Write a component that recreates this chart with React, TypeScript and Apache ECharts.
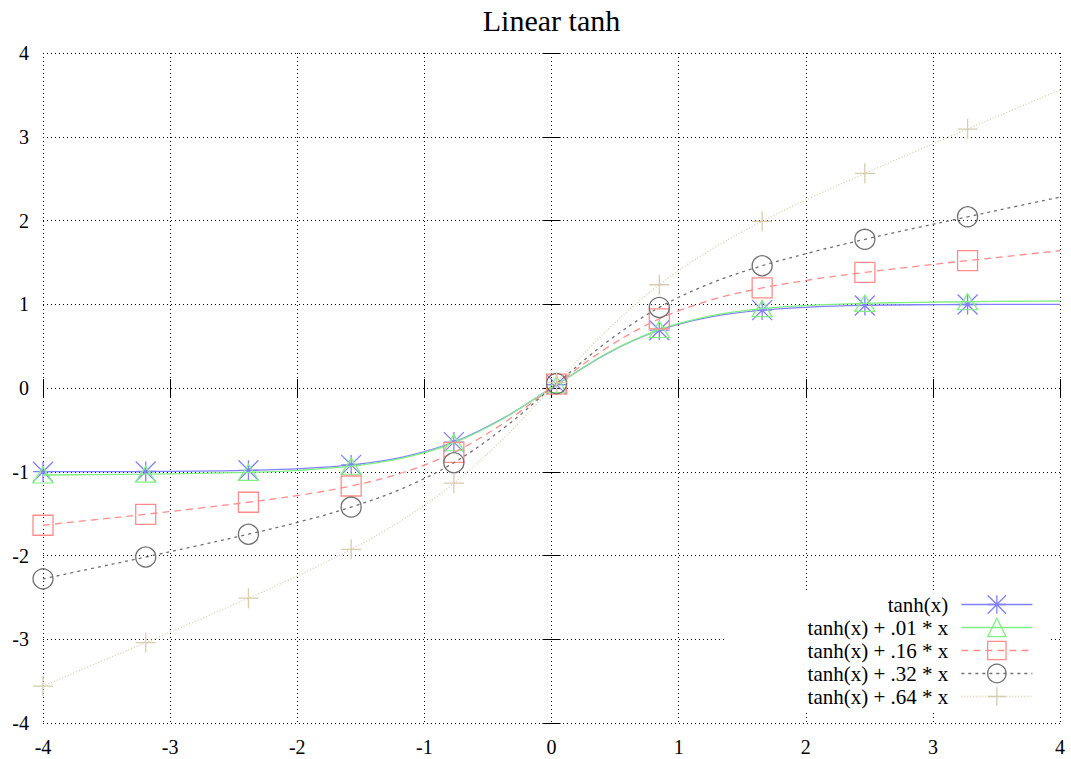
import React, { useEffect, useRef } from "react";
import * as echarts from "echarts";

// sample positions (every 5th of gnuplot's 100 samples, plus the last one)
const xs = [
  -4, -3.596, -3.192, -2.788, -2.384, -1.98, -1.576, -1.172, -0.768, -0.364,
  0.04, 0.444, 0.848, 1.253, 1.657, 2.061, 2.465, 2.869, 3.273, 3.677, 4,
];
const tanhY = [
  -0.999, -0.998, -0.997, -0.992, -0.983, -0.963, -0.918, -0.825, -0.646, -0.348,
  0.04, 0.417, 0.69, 0.849, 0.93, 0.968, 0.986, 0.994, 0.997, 0.999, 0.999,
];
const tanh01Y = [
  -1.039, -1.034, -1.029, -1.02, -1.007, -0.983, -0.934, -0.837, -0.654, -0.352,
  0.041, 0.421, 0.698, 0.862, 0.947, 0.989, 1.011, 1.023, 1.03, 1.036, 1.039,
];
const tanh16Y = [
  -1.639, -1.573, -1.508, -1.438, -1.364, -1.28, -1.17, -1.012, -0.769, -0.406,
  0.047, 0.488, 0.826, 1.049, 1.195, 1.298, 1.38, 1.453, 1.521, 1.587, 1.639,
];
const tanh32Y = [
  -2.279, -2.149, -2.018, -1.884, -1.746, -1.597, -1.422, -1.2, -0.892, -0.464,
  0.053, 0.559, 0.962, 1.25, 1.46, 1.627, 1.775, 1.912, 2.044, 2.176, 2.279,
];
const tanh64Y = [
  -3.559, -3.299, -3.04, -2.776, -2.509, -2.23, -1.926, -1.575, -1.137, -0.581,
  0.066, 0.701, 1.233, 1.651, 1.99, 2.287, 2.563, 2.83, 3.092, 3.352, 3.559,
];
// which samples carry a point marker (every 10th gnuplot sample)
const markerIdx = [0, 2, 4, 6, 8, 10, 12, 14, 16, 18];

const seriesNames = [
  "tanh(x)",
  "tanh(x) + .01 * x",
  "tanh(x) + .16 * x",
  "tanh(x) + .32 * x",
  "tanh(x) + .64 * x",
];
const seriesValues = [tanhY, tanh01Y, tanh16Y, tanh32Y, tanh64Y];
const axisTicks = [-4, -3, -2, -1, 0, 1, 2, 3, 4];

const FONT = "Liberation Serif";

const styles = [
  { color: "#8080ff", dash: "solid" as any, symbol: "path://M10,0V20M0,10H20M0,0L20,20M20,0L0,20", size: 20 as any },
  { color: "#80f080", dash: "solid" as any, symbol: "triangle", size: [20, 16] as any },
  { color: "#ff8c8c", dash: [7, 5] as any, symbol: "rect", size: 20 as any },
  { color: "#707070", dash: [3, 4] as any, symbol: "circle", size: 20 as any },
  { color: "#d8ccae", dash: [1, 2] as any, symbol: "path://M10,0V20M0,10H20", size: 20 as any },
];

export default function App() {
  const ref = useRef<HTMLDivElement>(null);
  useEffect(() => {
    document.body.style.margin = "0";
    const chart = echarts.init(ref.current!, null, { renderer: "svg" });
    const tickAxisCommon = {
      type: "value" as const,
      min: axisTicks[0],
      max: axisTicks[axisTicks.length - 1],
      interval: 1,
      axisLine: { show: false },
      axisTick: { show: true, inside: true, length: 9, lineStyle: { color: "#000", width: 1 } },
    };
    const labelStyle = { fontFamily: FONT, fontSize: 20, color: "#000" };
    const series = seriesNames.map((name, s) => {
      const st = styles[s];
      const ys = seriesValues[s];
      return {
        name,
        type: "line",
        xAxisIndex: 0,
        yAxisIndex: 0,
        symbol: st.symbol,
        symbolSize: st.size,
        showSymbol: true,
        smooth: 0.35,
        data: xs.map((x, i) =>
          markerIdx.indexOf(i) >= 0 ? { value: [x, ys[i]] } : { value: [x, ys[i]], symbol: "none" }
        ),
        itemStyle: { color: "transparent", borderColor: st.color, borderWidth: 1.3 },
        lineStyle: { color: st.color, width: 1.3, type: st.dash },
        emphasis: { disabled: true },
        z: 2 + s,
      };
    });
    chart.setOption({
      animation: false,
      textStyle: { fontFamily: FONT },
      title: {
        text: "Linear tanh",
        left: 546.5,
        textAlign: "center",
        top: 0,
        textStyle: { fontFamily: FONT, fontSize: 30, fontWeight: "normal", color: "#000" },
      },
      graphic: [
        {
          type: "rect",
          z: 1,
          silent: true,
          shape: { x: 727, y: 592, width: 321, height: 120 },
          style: { fill: "#fff" },
        },
      ],
      legend: {
        orient: "vertical",
        align: "right",
        right: 38,
        top: 593,
        padding: 0,
        itemWidth: 71,
        itemHeight: 23,
        itemGap: 0,
        selectedMode: false,
        itemStyle: { borderWidth: 1.3 },
        lineStyle: { width: 1.3 },
        textStyle: {
          fontFamily: FONT,
          fontSize: 21,
          lineHeight: 23,
          color: "#000",
          padding: [0, 8, 0, 0],
        },
        data: seriesNames,
      },
      grid: { left: 43, right: 11, top: 53, bottom: 36, outerBoundsMode: "none" },
      xAxis: [
        {
          ...tickAxisCommon,
          position: "bottom",
          axisLabel: { ...labelStyle, margin: 14 },
          splitLine: { show: true, lineStyle: { color: "#000", width: 1, type: [1, 3] } },
        },
        {
          ...tickAxisCommon,
          position: "top",
          axisLabel: { show: false },
          splitLine: { show: false },
        },
      ],
      yAxis: [
        {
          ...tickAxisCommon,
          position: "left",
          axisLabel: { ...labelStyle, margin: 14 },
          splitLine: { show: true, lineStyle: { color: "#000", width: 1, type: [1, 3] } },
        },
        {
          ...tickAxisCommon,
          position: "right",
          axisLabel: { show: false },
          splitLine: { show: false },
        },
      ],
      series,
    });
    return () => chart.dispose();
  }, []);
  return (
    <div
      ref={ref}
      style={{ position: "absolute", left: 0, top: 0, width: 1071, height: 759, background: "#fff" }}
    />
  );
}
